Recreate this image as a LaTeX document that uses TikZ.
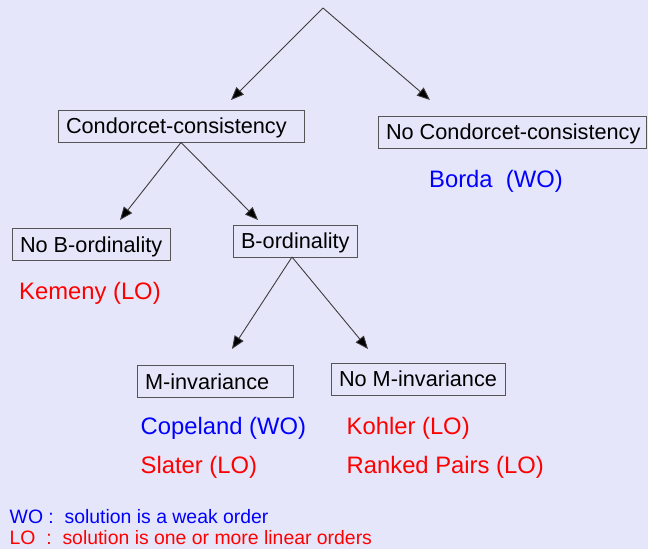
\documentclass[tikz,border=0pt]{standalone}
\usepackage{fontspec}
\setmainfont{Liberation Sans}
\usetikzlibrary{arrows.meta}
\definecolor{bgcol}{RGB}{230,230,250}
\definecolor{boxline}{RGB}{85,85,85}
\definecolor{edgecol}{RGB}{60,60,60}
\definecolor{wocol}{RGB}{0,0,255}
\definecolor{locol}{RGB}{255,0,0}
% left-aligned box text of a fixed width
\newcommand\critlabel[2]{\makebox[#1][l]{#2}}
\begin{document}
\begin{tikzpicture}[x=1pt,y=-1pt,
  crit/.style={draw=boxline, line width=0.9pt, fill=bgcol, inner xsep=8pt, inner ysep=0pt,
    minimum height=32pt, text height=15.5pt, text depth=0pt,
    font=\fontsize{21.7}{24}\selectfont},
  rule/.style={anchor=base west, inner sep=0pt, font=\fontsize{23.8}{26}\selectfont},
  weak/.style={rule, text=wocol},
  linear/.style={rule, text=locol},
  key/.style={anchor=base west, inner sep=0pt, font=\fontsize{19.4}{22}\selectfont},
  branch/.style={draw=edgecol, line width=0.9pt, -{Triangle[length=13pt,width=10.5pt,fill=black]}}
]
\fill[bgcol] (0,0) rectangle (648,549);
\useasboundingbox (0,0) rectangle (648,549);

% property boxes
\node[crit] (cc)  at (181,126)   {\critlabel{230pt}{Condorcet-consistency}};
\node[crit] (ncc) at (512,132)   {\critlabel{252pt}{No Condorcet-consistency}};
\node[crit] (nbo) at (91,244.5)  {\critlabel{142pt}{No B-ordinality}};
\node[crit] (bo)  at (295,241)   {\critlabel{108pt}{B-ordinality}};
\node[crit] (mi)  at (215,381.5) {\critlabel{140pt}{M-invariance}};
\node[crit] (nmi) at (418,379)   {\critlabel{158pt}{No M-invariance}};

% arrow ends
\coordinate (root)   at (323,8);
\coordinate (ccTip)  at (231,100);
\coordinate (nccTip) at (430,100);
\coordinate (nboTip) at (120,220);
\coordinate (boTip)  at (258,220);
\coordinate (miTip)  at (232,349);
\coordinate (nmiTip) at (368,349);
\coordinate (boOut)  at (292,257);

\draw[branch] (root) -- (ccTip);
\draw[branch] (root) -- (nccTip);
\draw[branch] (cc.south) -- (nboTip);
\draw[branch] (cc.south) -- (boTip);
\draw[branch] (boOut) -- (miTip);
\draw[branch] (boOut) -- (nmiTip);

% voting rules
\node[weak]   (borda)    at (429,187)   {Borda\ \ (WO)};
\node[linear] (kemeny)   at (19,299)    {Kemeny (LO)};
\node[weak]   (copeland) at (140.5,434) {Copeland (WO)};
\node[linear] (slater)   at (140.5,473) {Slater (LO)};
\node[linear] (kohler)   at (346.5,434) {Kohler (LO)};
\node[linear] (ranked)   at (346.5,473) {Ranked Pairs (LO)};

% legend
\node[key, text=wocol] (keyWO) at (9.5,523) {WO :\ \ solution is a weak order};
\node[key, text=locol] (keyLO) at (9.5,544) {LO\ \ :\ \ solution is one or more linear orders};
\end{tikzpicture}
\end{document}
